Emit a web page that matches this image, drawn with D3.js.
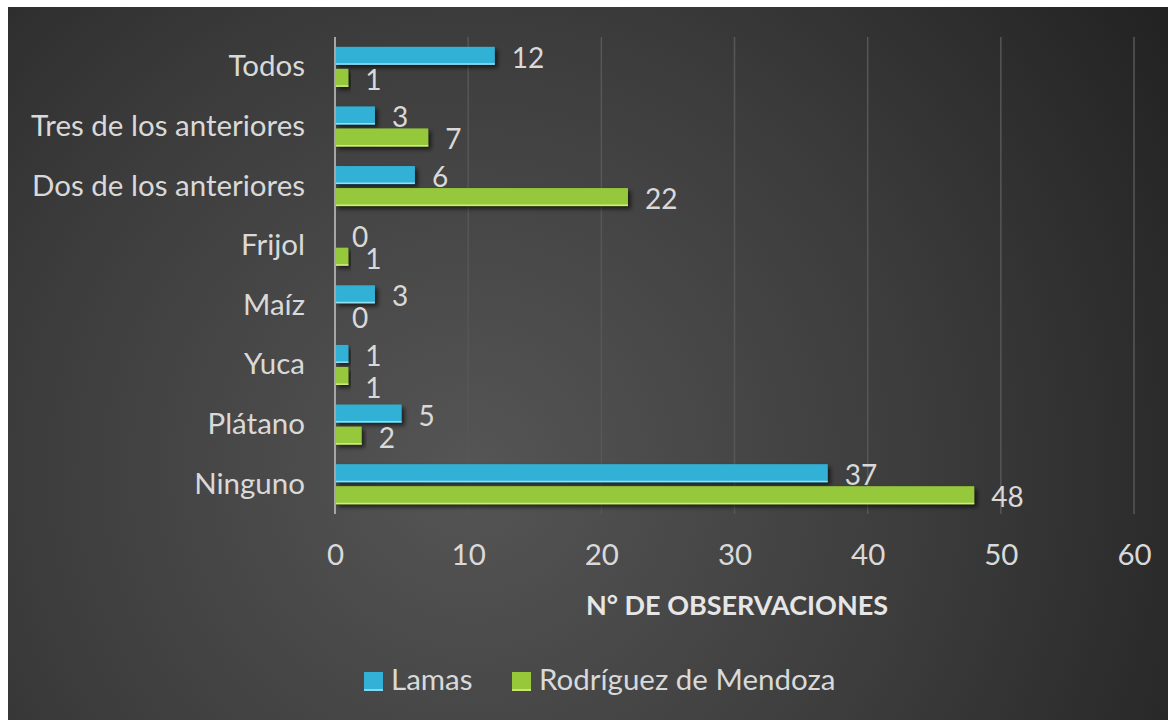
<!DOCTYPE html>
<html><head><meta charset="utf-8">
<script src="https://cdn.jsdelivr.net/npm/d3@7/dist/d3.min.js"></script>
<style>html,body{margin:0;padding:0;background:#fff;}svg{display:block;}</style>
</head><body>
<svg id="c" width="1168" height="720"></svg>
<script>
const categories = ["Todos","Tres de los anteriores","Dos de los anteriores","Frijol","Maíz","Yuca","Plátano","Ninguno"];
const lamas = [12,3,6,0,3,1,5,37];
const rodriguez = [1,7,22,1,0,1,2,48];
const seriesNames = ["Lamas","Rodríguez de Mendoza"];
const xTicks = [0,10,20,30,40,50,60];
const axisTitle = "N° DE OBSERVACIONES";

const colors = ["#33B1D6","#96C83A"];
const edge = ["#9FE3F5","#D8EF8A"];
const FONT = "Lato, 'Open Sans', sans-serif";
const txt = "#d9d9d9";
const FS = 29.5;

const svg = d3.select("#c");
const defs = svg.append("defs");
const rg = defs.append("radialGradient").attr("id","bg")
  .attr("gradientUnits","userSpaceOnUse").attr("cx",470).attr("cy",470).attr("r",820);
rg.append("stop").attr("offset","0").attr("stop-color","#555555");
rg.append("stop").attr("offset","0.55").attr("stop-color","#3c3c3c");
rg.append("stop").attr("offset","1").attr("stop-color","#232323");
const f = defs.append("filter").attr("id","sh").attr("x","-10%").attr("y","-40%").attr("width","130%").attr("height","200%");
f.append("feDropShadow").attr("dx",3).attr("dy",3).attr("stdDeviation",2).attr("flood-color","#000").attr("flood-opacity",0.6);

svg.append("rect").attr("x",8).attr("y",7).attr("width",1160).attr("height",713).attr("fill","url(#bg)");

const x = d3.scaleLinear().domain([0,60]).range([335,1134]);
const y = d3.scaleBand().domain(categories).range([37,514]);
const barH = 18, gap = 4;

// gridlines
svg.append("g").selectAll("line").data(xTicks.slice(1)).join("line")
  .attr("x1",d=>x(d)).attr("x2",d=>x(d)).attr("y1",37).attr("y2",514)
  .attr("stroke","#575757").attr("stroke-width",1.5);

const series = [lamas, rodriguez];
const yOff = (d,si) => y(d) + y.bandwidth()/2 + (si===0 ? -gap/2 - barH : gap/2);
series.forEach((vals,si)=>{
  const g = svg.append("g");
  g.selectAll("rect").data(categories).join("rect")
    .attr("x",x(0)).attr("y",d=>yOff(d,si))
    .attr("width",(d,i)=>x(vals[i])-x(0)).attr("height",barH)
    .attr("fill",colors[si]).attr("filter",(d,i)=>vals[i]>0?"url(#sh)":null);
  g.selectAll("line").data(categories).join("line")
    .attr("x1",x(0)).attr("x2",(d,i)=>x(vals[i]))
    .attr("y1",d=>yOff(d,si)+barH-0.75).attr("y2",d=>yOff(d,si)+barH-0.75)
    .attr("stroke",edge[si]).attr("stroke-width",1.5).attr("opacity",(d,i)=>vals[i]>0?0.9:0);
  g.selectAll("text").data(categories).join("text")
    .attr("x",(d,i)=>x(vals[i])+17)
    .attr("y",(d,i)=>{
      let c = yOff(d,si)+barH/2+1;
      // simple collision avoidance: identical value labels stacked -> push lower one down
      if (si===1 && lamas[i]===rodriguez[i]) c += 10;
      return c;
    })
    .attr("dominant-baseline","central")
    .attr("fill",txt).attr("font-family",FONT).attr("font-size",28)
    .text((d,i)=>vals[i]);
});

// y axis line
svg.append("line").attr("x1",x(0)).attr("x2",x(0)).attr("y1",37).attr("y2",514)
  .attr("stroke","#a6a6a6").attr("stroke-width",2);

// category labels
const yAxis = d3.axisLeft(y).tickSize(0).tickPadding(30);
const ya = svg.append("g").attr("transform",`translate(${x(0)},0)`).call(yAxis);
ya.select(".domain").remove();
ya.selectAll("text").attr("fill",txt).attr("font-family",FONT).attr("font-size",FS).attr("dy","0.32em");

// x tick labels
const xAxis = d3.axisBottom(x).tickValues(xTicks).tickSize(0).tickPadding(0);
const xa = svg.append("g").attr("transform","translate(0,565)").call(xAxis);
xa.select(".domain").remove();
xa.selectAll("text").attr("fill",txt).attr("font-family",FONT).attr("font-size",FS).attr("y",0).attr("dy","0");

svg.append("text").attr("x",737).attr("y",615).attr("text-anchor","middle")
  .attr("fill","#e6e6e6").attr("font-family",FONT).attr("font-weight","bold").attr("font-size",27)
  .text(axisTitle);

// legend
const leg = [{x:364,t:seriesNames[0]},{x:512,t:seriesNames[1]}];
leg.forEach((l,i)=>{
  svg.append("rect").attr("x",l.x).attr("y",672).attr("width",19).attr("height",19).attr("fill",colors[i]);
  svg.append("line").attr("x1",l.x).attr("x2",l.x+19).attr("y1",690).attr("y2",690).attr("stroke",edge[i]).attr("stroke-width",1.5);
  svg.append("text").attr("x",l.x+27).attr("y",690).attr("fill",txt).attr("font-family",FONT).attr("font-size",FS).text(l.t);
});
</script>
</body></html>
